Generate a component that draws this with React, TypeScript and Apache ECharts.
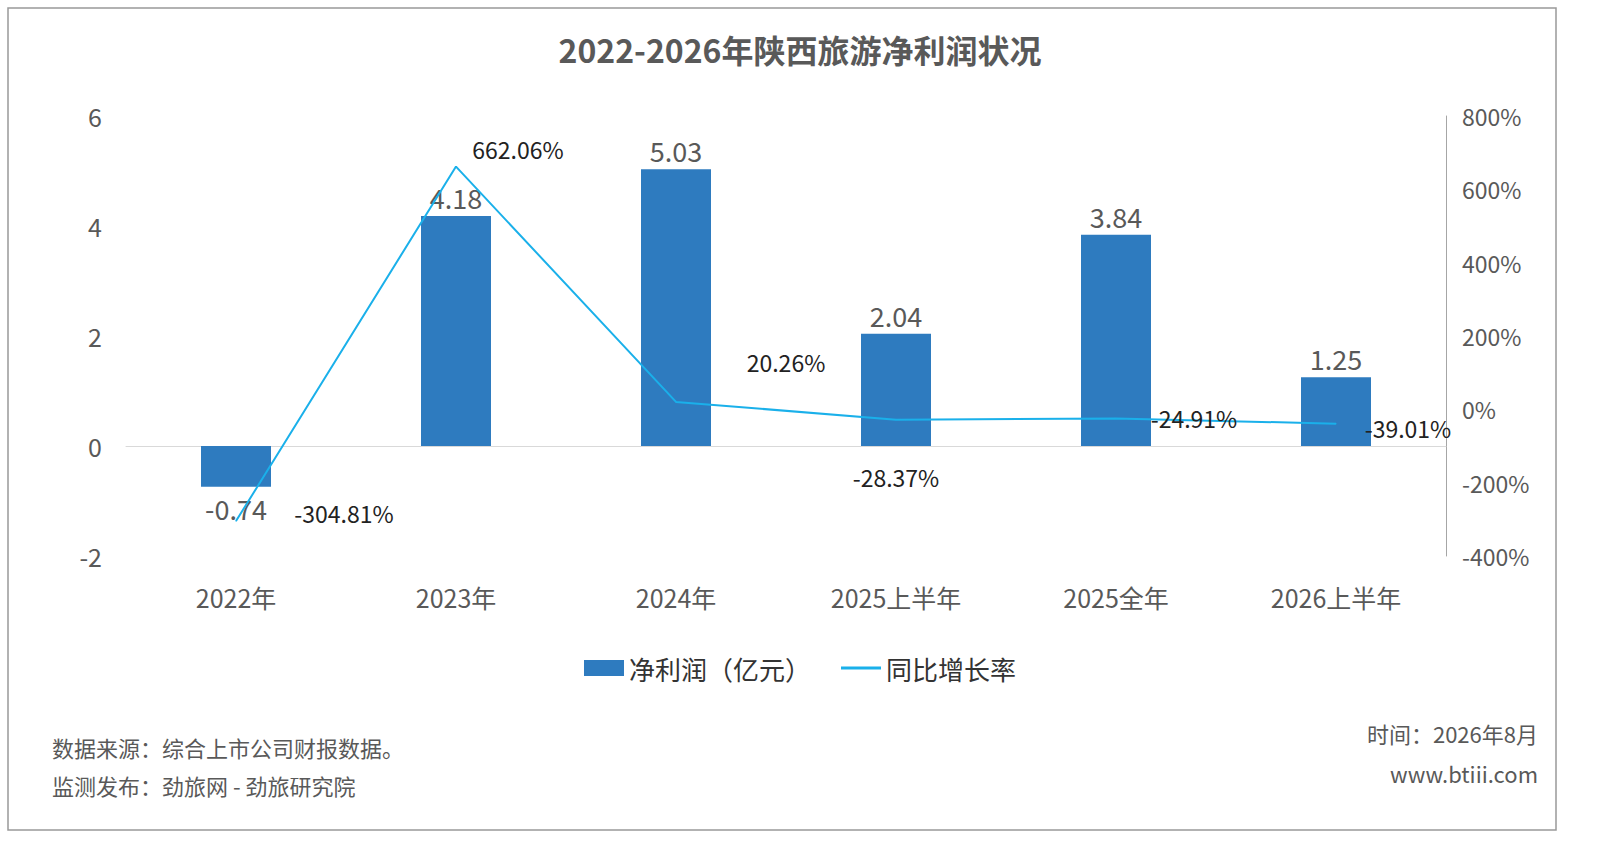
import React, { useEffect, useRef } from "react";
import * as echarts from "echarts";

const categories = ["2022年", "2023年", "2024年", "2025上半年", "2025全年", "2026上半年"];
const profit = [-0.74, 4.18, 5.03, 2.04, 3.84, 1.25];
const growth = [-304.81, 662.06, 20.26, -28.37, -24.91, -39.01];
const growthOffsets: [number, number][] = [[108, -8], [62, -18], [110, -40], [0, 57], [78, 0], [72, 4]];

const FONT = "'Noto Sans CJK SC', 'Noto Sans', sans-serif";
const GRAY = "#595959";

export default function App() {
  const ref = useRef<HTMLDivElement>(null);
  useEffect(() => {
    const chart = echarts.init(ref.current!, null, { renderer: "svg" });
    chart.setOption({
      animation: false,
      backgroundColor: "#fff",
      textStyle: { fontFamily: FONT },
      title: {
        text: "2022-2026年陕西旅游净利润状况",
        left: "center",
        top: 28,
        textStyle: { fontSize: 32, fontWeight: "bold", color: GRAY, fontFamily: FONT },
      },
      grid: { left: 126, right: 154, top: 116, bottom: 298 },
      legend: {
        top: 650,
        left: "center",
        itemGap: 30,
        textStyle: { fontSize: 26, color: "#333", fontFamily: FONT },
        data: [
          { name: "净利润（亿元）", icon: "rect", itemStyle: { color: "#2e7bbf" } },
          { name: "同比增长率", icon: "path://M0,0H40V3H0Z" },
        ],
        itemWidth: 40,
        itemHeight: 16,
      },
      xAxis: {
        type: "category",
        data: categories,
        axisLine: { onZero: true, lineStyle: { color: "#d9d9d9" } },
        axisTick: { show: false },
        axisLabel: { fontSize: 25, color: GRAY, margin: 28, fontFamily: FONT },
      },
      yAxis: [
        {
          type: "value", min: -2, max: 6, interval: 2,
          axisLine: { show: false }, axisTick: { show: false },
          splitLine: { show: false },
          axisLabel: { fontSize: 25, color: GRAY, margin: 24 },
        },
        {
          type: "value", min: -400, max: 800, interval: 200,
          axisLine: { show: true, lineStyle: { color: "#a6a6a6" } }, axisTick: { show: false },
          splitLine: { show: false },
          axisLabel: { fontSize: 23, color: GRAY, margin: 16, formatter: "{value}%" },
        },
      ],
      series: [
        {
          name: "净利润（亿元）",
          type: "bar",
          data: profit,
          barWidth: 70,
          itemStyle: { color: "#2e7bbf" },
          label: {
            show: true, fontSize: 27, color: GRAY,
            position: "top",
            formatter: (p: any) => p.value.toFixed(2),
          },
          labelLayout: (p: any) => (profit[p.dataIndex] < 0 ? { dy: p.rect.height + 40 } : {}),
        },
        {
          name: "同比增长率",
          type: "line",
          yAxisIndex: 1,
          data: growth.map((v, i) => ({
            value: v,
            label: { offset: growthOffsets[i] },
          })),
          symbol: "circle",
          symbolSize: 1,
          showSymbol: true,
          lineStyle: { color: "#1ab0ea", width: 2 },
          itemStyle: { color: "#1ab0ea" },
          label: {
            show: true, position: "inside", fontSize: 23, color: "#222",
            formatter: (p: any) => p.value.toFixed(2) + "%",
          },
        },
      ],
      graphic: [
        { type: "rect", shape: { x: 8, y: 8, width: 1548, height: 822 }, style: { fill: "none", stroke: "#999", lineWidth: 1.5 } },
        { type: "text", left: 52, top: 736, style: { text: "数据来源：综合上市公司财报数据。", fontSize: 22, fill: GRAY, fontFamily: FONT } },
        { type: "text", left: 52, top: 774, style: { text: "监测发布：劲旅网 - 劲旅研究院", fontSize: 22, fill: GRAY, fontFamily: FONT } },
        { type: "text", right: 62, top: 722, style: { text: "时间：2026年8月", fontSize: 22, fill: GRAY, fontFamily: FONT } },
        { type: "text", right: 62, top: 762, style: { text: "www.btiii.com", fontSize: 22, fill: GRAY, fontFamily: FONT } },
      ],
    });
    return () => chart.dispose();
  }, []);
  return <div ref={ref} style={{ position: "fixed", left: 0, top: 0, width: 1600, height: 854 }} />;
}
